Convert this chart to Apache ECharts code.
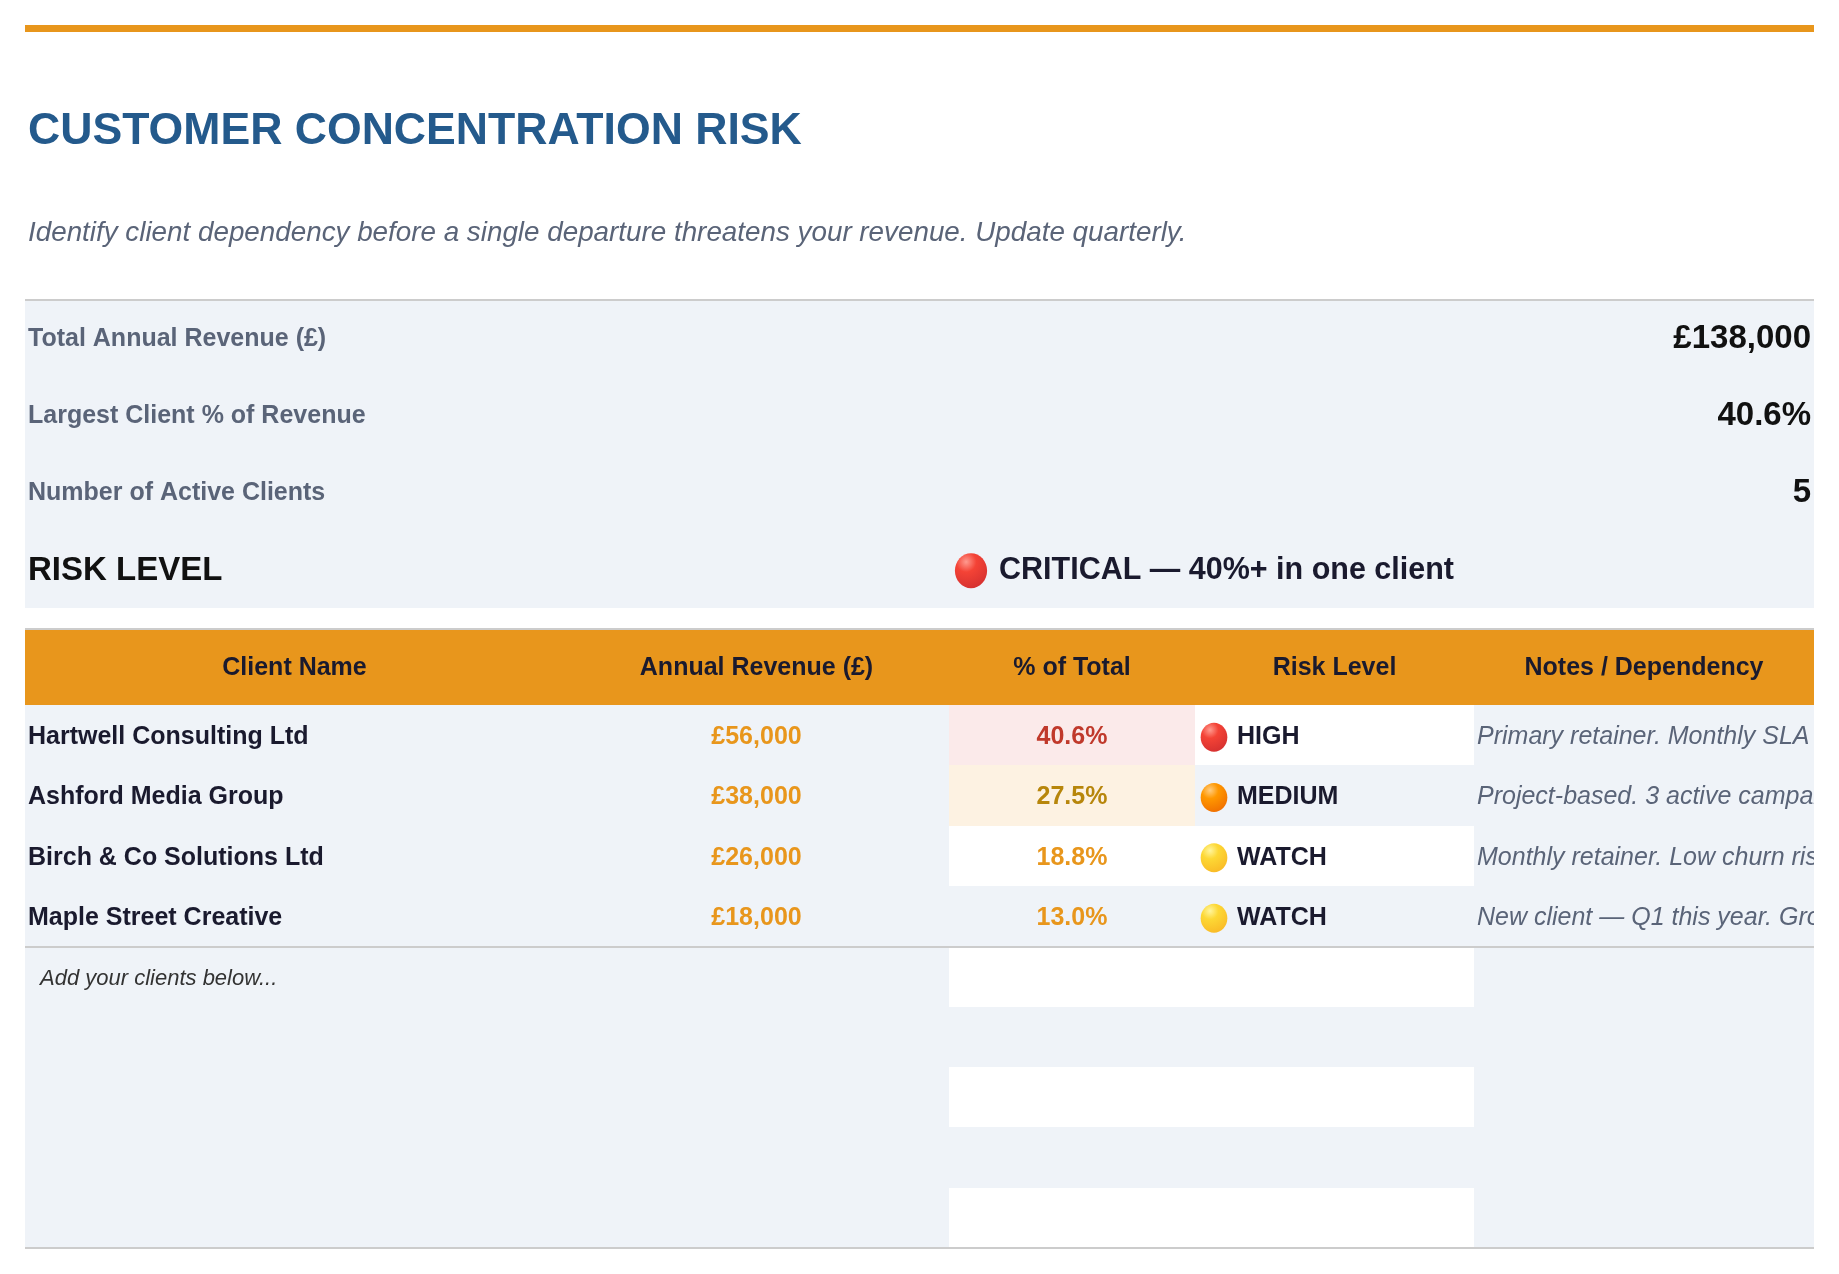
<!DOCTYPE html>
<html>
<head>
<meta charset="utf-8">
<title>Customer Concentration Risk</title>
<script src="https://cdn.jsdelivr.net/npm/echarts@6/dist/echarts.min.js"></script>
<style>
    html, body { margin: 0; padding: 0; background: #fff; }
    #main { width: 1839px; height: 1274px; }
</style>
</head>
<body>
<div id="main"></div>
<script>
// ---- data ----
var titleText = 'CUSTOMER CONCENTRATION RISK';
var subtitleText = 'Identify client dependency before a single departure threatens your revenue. Update quarterly.';

var summaryLabels = ['Total Annual Revenue (£)', 'Largest Client % of Revenue', 'Number of Active Clients', 'RISK LEVEL'];
var summaryValues = ['£138,000', '40.6%', '5', 'CRITICAL — 40%+ in one client'];

var headers = ['Client Name', 'Annual Revenue (£)', '% of Total', 'Risk Level', 'Notes / Dependency'];
var clients = ['Hartwell Consulting Ltd', 'Ashford Media Group', 'Birch & Co Solutions Ltd', 'Maple Street Creative'];
var revenues = [56000, 38000, 26000, 18000];
var shares = [40.6, 27.5, 18.8, 13.0];
var riskLevels = ['HIGH', 'MEDIUM', 'WATCH', 'WATCH'];
var notes = [
    'Primary retainer. Monthly SLA renewal due Q3.',
    'Project-based. 3 active campaigns running.',
    'Monthly retainer. Low churn risk.',
    'New client — Q1 this year. Growing account.'
];
var placeholder = 'Add your clients below...';
var blankRows = 4;

// ---- layout / style ----
var FONT = '"Liberation Sans", Arial, Helvetica, sans-serif';
var ORANGE = '#E8961C';
var PANEL = '#EFF3F8';
var RULE = '#CCCCCC';
var INK = '#1A1A2E';
var SLATE = '#5A6478';
var LEFT = 25, WIDTH = 1789;
var colEdges = [0, 539, 924, 1170, 1449, 1789];   // column boundaries inside the table

var dots = {
    CRITICAL: ['#FF9A8F', '#F44336', '#D32F2F'],
    HIGH: ['#FF9A8F', '#F44336', '#D32F2F'],
    MEDIUM: ['#FFCC80', '#FF9800', '#EF6C00'],
    WATCH: ['#FFF59D', '#FDD835', '#F9B825']
};

function fmtMoney(v) {
    return '£' + v.toString().replace(/\B(?=(\d{3})+(?!\d))/g, ',');
}
function shareTone(v) {
    if (v >= 40) return { bg: '#FBEAEA', color: '#C0392B' };
    if (v >= 25) return { bg: '#FDF2E2', color: '#B7860B' };
    return { bg: null, color: ORANGE };
}
// snapped to whole pixels so neighbouring cells don't leave seams
function rect(x, y, w, h, fill) {
    var x0 = Math.round(x), y0 = Math.round(y);
    return {
        type: 'rect',
        shape: { x: x0, y: y0, width: Math.round(x + w) - x0, height: Math.round(y + h) - y0 },
        style: { fill: fill }
    };
}
function txt(x, y, s, font, color, align) {
    return {
        type: 'text',
        style: { x: x, y: y, text: s, font: font, fill: color, align: align || 'left', verticalAlign: 'middle' }
    };
}
function dot(cx, cy, r, level) {
    var c = dots[level];
    return {
        type: 'ellipse',
        shape: { cx: cx, cy: cy, rx: r * 0.92, ry: r },
        style: {
            fill: new echarts.graphic.RadialGradient(0.35, 0.25, 0.9, [
                { offset: 0, color: c[0] },
                { offset: 0.35, color: c[1] },
                { offset: 1, color: c[2] }
            ])
        }
    };
}

var chart = echarts.init(document.getElementById('main'));

// summary block, one row per label
function summaryRow(params, api) {
    var i = api.value(1);
    var a = api.coord([0, i]);
    var b = api.coord([WIDTH, i + 1]);
    var cy = (a[1] + b[1]) / 2;
    var kids = [rect(a[0], a[1], b[0] - a[0], b[1] - a[1], PANEL)];
    if (i < 3) {
        kids.push(txt(a[0] + 3, cy, summaryLabels[i], 'bold 25px ' + FONT, SLATE));
        kids.push(txt(b[0] - 3, cy, summaryValues[i], 'bold 33px ' + FONT, '#111111', 'right'));
    } else {
        kids.push(txt(a[0] + 3, cy + 1, summaryLabels[i], 'bold 33px ' + FONT, '#111111'));
        kids.push(dot(a[0] + 946, cy + 1, 17.5, 'CRITICAL'));
        kids.push(txt(a[0] + 974, cy + 1, summaryValues[i], 'bold 30.5px ' + FONT, INK));
    }
    return { type: 'group', children: kids };
}

// client table body
function tableRow(params, api) {
    var i = api.value(1);
    var a = api.coord([0, i]);
    var b = api.coord([WIDTH, i + 1]);
    var y0 = a[1], h = b[1] - a[1], cy = y0 + h / 2 + 2;
    var cx = function (k) { return api.coord([colEdges[k], i])[0]; };
    var kids = [rect(a[0], y0, b[0] - a[0], h, PANEL)];
    if (i % 2 === 0) kids.push(rect(cx(2), y0, cx(4) - cx(2), h, '#FFFFFF'));
    if (i < clients.length) {
        var tone = shareTone(shares[i]);
        if (tone.bg) kids.push(rect(cx(2), y0, cx(3) - cx(2), h, tone.bg));
        kids.push(txt(cx(0) + 3, cy, clients[i], 'bold 25px ' + FONT, INK));
        kids.push(txt((cx(1) + cx(2)) / 2, cy, fmtMoney(revenues[i]), 'bold 25px ' + FONT, ORANGE, 'center'));
        kids.push(txt((cx(2) + cx(3)) / 2, cy, shares[i].toFixed(1) + '%', 'bold 25px ' + FONT, tone.color, 'center'));
        kids.push(dot(cx(3) + 19, cy, 14.5, riskLevels[i]));
        kids.push(txt(cx(3) + 42, cy, riskLevels[i], 'bold 25px ' + FONT, INK));
        kids.push(txt(cx(4) + 3, cy, notes[i], 'italic 25px ' + FONT, SLATE));
    } else if (i === clients.length) {
        kids.push(txt(cx(0) + 15, cy, placeholder, 'italic 22px ' + FONT, '#333333'));
    }
    return { type: 'group', children: kids };
}

var summaryData = summaryLabels.map(function (s, i) { return [0, i]; });
var rowCount = clients.length + 1 + blankRows;
var tableData = [];
for (var r = 0; r < rowCount; r++) tableData.push([0, r]);

// header cells
var headerGraphics = [
    { type: 'rect', shape: { x: LEFT, y: 630, width: WIDTH, height: 75 }, style: { fill: ORANGE } },
    { type: 'rect', shape: { x: LEFT, y: 628, width: WIDTH, height: 2 }, style: { fill: RULE } }
];
headers.forEach(function (h, k) {
    headerGraphics.push({
        type: 'text', x: LEFT + (colEdges[k] + colEdges[k + 1]) / 2, y: 668,
        style: { text: h, font: 'bold 25px ' + FONT, fill: INK, align: 'center', verticalAlign: 'middle' }
    });
});

chart.setOption({
    backgroundColor: '#FFFFFF',
    animation: false,
    grid: [
        { left: LEFT, top: 301, width: WIDTH, height: 307 },
        { left: LEFT, top: 705, width: WIDTH, height: 543 }
    ],
    xAxis: [
        { gridIndex: 0, type: 'value', min: 0, max: WIDTH, show: false },
        { gridIndex: 1, type: 'value', min: 0, max: WIDTH, show: false }
    ],
    yAxis: [
        { gridIndex: 0, type: 'value', min: 0, max: summaryLabels.length, inverse: true, show: false },
        { gridIndex: 1, type: 'value', min: 0, max: rowCount, inverse: true, show: false }
    ],
    series: [
        { type: 'custom', xAxisIndex: 0, yAxisIndex: 0, renderItem: summaryRow, data: summaryData, silent: true },
        { type: 'custom', xAxisIndex: 1, yAxisIndex: 1, renderItem: tableRow, data: tableData, silent: true }
    ],
    graphic: [
        { type: 'rect', shape: { x: LEFT, y: 25, width: WIDTH, height: 7 }, style: { fill: ORANGE } },
        {
            type: 'text', x: 28, y: 132,
            style: { text: titleText, font: 'bold 44.6px ' + FONT, fill: '#245A8C', verticalAlign: 'middle' }
        },
        {
            type: 'text', x: 28, y: 233,
            style: { text: subtitleText, font: 'italic 27.8px ' + FONT, fill: SLATE, verticalAlign: 'middle' }
        },
        { type: 'rect', shape: { x: LEFT, y: 299, width: WIDTH, height: 2 }, style: { fill: RULE } }
    ].concat(headerGraphics).concat([
        { type: 'rect', z: 100, shape: { x: LEFT, y: 946, width: WIDTH, height: 2 }, style: { fill: RULE } },
        { type: 'rect', z: 100, shape: { x: LEFT, y: 1247, width: WIDTH, height: 2 }, style: { fill: RULE } },
        // page edge: the notes column runs past the printable width
        { type: 'rect', z: 100, shape: { x: LEFT + WIDTH, y: 600, width: 60, height: 700 }, style: { fill: '#FFFFFF' } }
    ])
});
</script>
</body>
</html>
